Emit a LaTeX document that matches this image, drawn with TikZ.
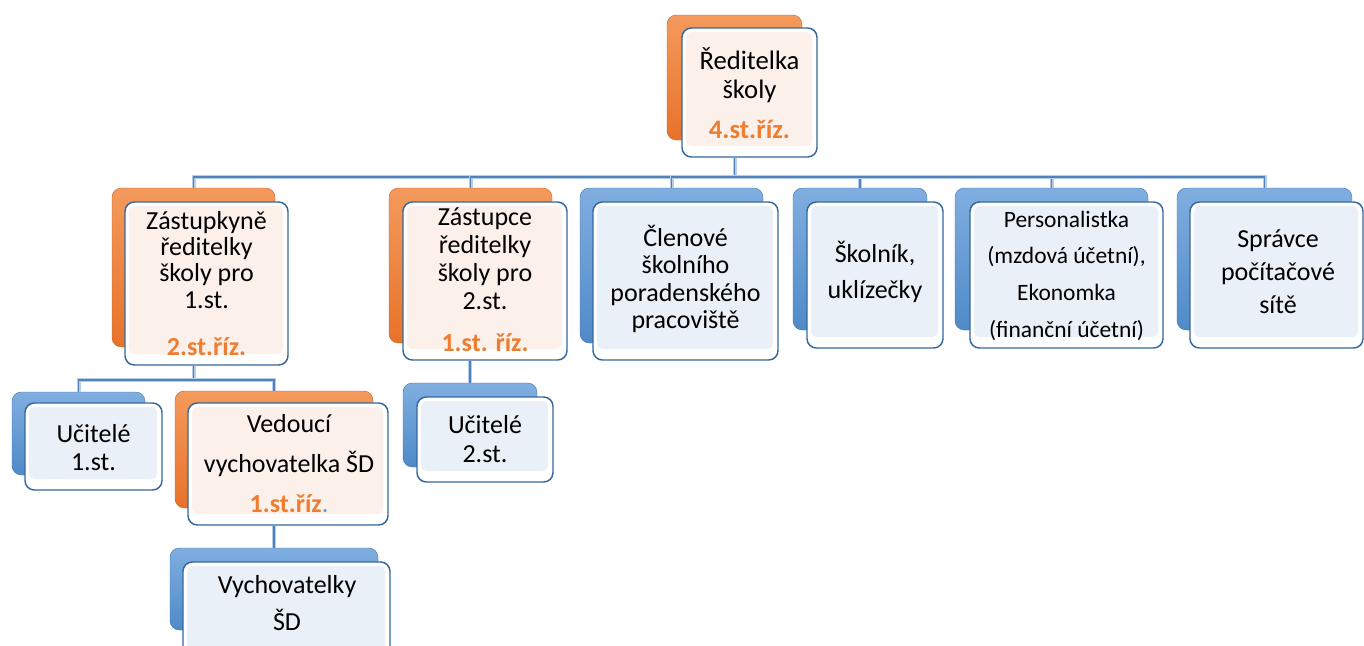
\documentclass[tikz,border=0pt]{standalone}
\usepackage{fontspec}
\setmainfont{Carlito}
\definecolor{oTop}{HTML}{F39A5C}
\definecolor{oBot}{HTML}{E8722A}
\definecolor{bTop}{HTML}{80AEE0}
\definecolor{bBot}{HTML}{4F8AC8}
\definecolor{frame}{HTML}{36689C}
\definecolor{tintO}{HTML}{FCF0EA}
\definecolor{tintB}{HTML}{EAF0F8}
\definecolor{connD}{HTML}{4F81BD}
\definecolor{connL}{HTML}{B8CDE8}
\definecolor{otext}{HTML}{ED7D31}
\definecolor{dotc}{HTML}{5B9BD5}
\newcommand\fz[2]{\fontsize{#1pt}{#2pt}\selectfont\lineskiplimit=-50pt\lineskip=0pt}
\newcommand\sU{\rule{0pt}{18pt}}
\newcommand\ot[1]{{\color{otext}\bfseries #1}}
\newcommand\boxat[6]{\node[#2, minimum width={((#5)-(#3))*0.75pt}, minimum height={((#6)-(#4))*0.75pt}] (#1) at ({((#3)+(#5))/2},{((#4)+(#6))/2}) {};}
\newcommand\frontat[6]{\boxat{#1}{front}{#3}{#4}{#5}{#6}\boxat{#1-in}{#2}{#3+4}{#4+4}{#5-5}{#6-11}}
\tikzset{
  backO/.style={rounded corners=7pt, top color=oTop, bottom color=oBot, draw=oBot!85!black, line width=0.3pt, inner sep=0pt},
  backB/.style={rounded corners=7pt, top color=bTop, bottom color=bBot, draw=bBot!85!black, line width=0.3pt, inner sep=0pt},
  front/.style={rounded corners=7pt, fill=white, draw=frame, line width=1.1pt, inner sep=0pt},
  inO/.style={rounded corners=4pt, fill=tintO, inner sep=0pt},
  inB/.style={rounded corners=4pt, fill=tintB, inner sep=0pt},
  txt/.style={anchor=north, align=center, inner sep=0pt, text=black},
  link/.style={draw=connD, line width=1.3pt, preaction={draw=connL, line width=3pt}}
}
\begin{document}
\begin{tikzpicture}[x=0.75pt,y=-0.75pt]
\path[use as bounding box, clip] (0,0) rectangle (1364,646);
\fill[white] (0,0) rectangle (1364,646);
% back boxes
\boxat{topB}{backO}{667}{15}{802}{140}
\boxat{z1B}{backO}{112}{188}{275}{347}
\boxat{z2B}{backO}{389}{188}{552}{343}
\boxat{clB}{backB}{580}{188}{763}{343}
\boxat{skB}{backB}{793}{188}{927}{330}
\boxat{peB}{backB}{955}{188}{1148}{330}
\boxat{spB}{backB}{1177}{188}{1352}{330}
\boxat{u1B}{backB}{12}{392}{145}{475}
\boxat{vdB}{backO}{175}{391}{373}{508}
\boxat{u2B}{backB}{403}{383}{537}{467}
\boxat{vyB}{backB}{170}{548}{378}{630}
% front boxes
\frontat{topF}{inO}{682}{28}{817}{157}
\frontat{z1F}{inO}{125}{202}{288}{365}
\frontat{z2F}{inO}{403}{202}{567}{360}
\frontat{clF}{inB}{593}{202}{778}{360}
\frontat{skF}{inB}{807}{202}{943}{348}
\frontat{peF}{inB}{970}{202}{1163}{348}
\frontat{spF}{inB}{1190}{202}{1363}{348}
\frontat{u1F}{inB}{25}{403}{162}{490}
\frontat{vdF}{inO}{188}{403}{388}{525}
\frontat{u2F}{inB}{417}{397}{553}{482}
\frontat{vyF}{inB}{183}{562}{390}{662}
% connectors
\coordinate (bus) at (0,177);
\coordinate (bus2) at (0,380);
\draw[link] (topB.south |- topF.south) -- (topB.south |- bus);
\foreach \c in {z1B,z2B,clB,skB,peB,spB}
  \draw[link] (topB.south |- bus) -| (\c.north);
\draw[link] (z1B.south |- z1F.south) -- (z1B.south |- bus2);
\draw[link] (z1B.south |- bus2) -| (u1B.north);
\draw[link] (z1B.south |- bus2) -| (vdB.north);
\draw[link] (z2F.south -| u2B.north) -- (u2B.north);
\draw[link] (vdF.south -| vyB.north) -- (vyB.north);
% texts
\node[txt, font={\fz{20}{21.75}}] (topT) at (749.5,45) {\sU Ředitelka\\ školy\\[8.25pt] \ot{4.st.říz.}};
\node[txt, font={\fz{19.5}{19.75}}] (z1T) at (206.5,205) {\sU Zástupkyně\\ ředitelky\\ školy pro\\ 1.st.\\[15.5pt] \ot{2.st.říz.}};
\node[txt, font={\fz{19.5}{21}}] (z2T) at (485,201) {\sU Zástupce\\ ředitelky\\ školy pro\\ 2.st.\\[10.5pt] \ot{1.st. říz.}};
\node[txt, font={\fz{19.5}{20.6}}] (clT) at (685.5,222) {\sU Členové\\ školního\\ poradenského\\ pracoviště};
\node[txt, font={\fz{19.5}{27}}] (skT) at (875,238) {\sU Školník,\\ uklízečky};
\node[txt, font={\fz{17.6}{27.5}}] (peT) at (1066.5,203) {\sU Personalistka\\ (mzdová účetní),\\ Ekonomka\\ (finanční účetní)};
\node[txt, font={\fz{19.5}{24.75}}] (spT) at (1278,223) {\sU Správce\\ počítačové\\ sítě};
\node[txt, font={\fz{19.5}{21}}] (u1T) at (93.5,418) {\sU Učitelé\\ 1.st.};
\node[txt, font={\fz{19.5}{30}}] (vdT) at (289,408) {\sU Vedoucí\\ vychovatelka ŠD\\ \ot{1.st.říz}{\color{dotc}.}};
\node[txt, font={\fz{19.5}{21.75}}] (u2T) at (485,409) {\sU Učitelé\\ 2.st.};
\node[txt, font={\fz{19.5}{27.75}}] (vyT) at (287,569) {\sU Vychovatelky\\ ŠD};
\end{tikzpicture}
\end{document}
